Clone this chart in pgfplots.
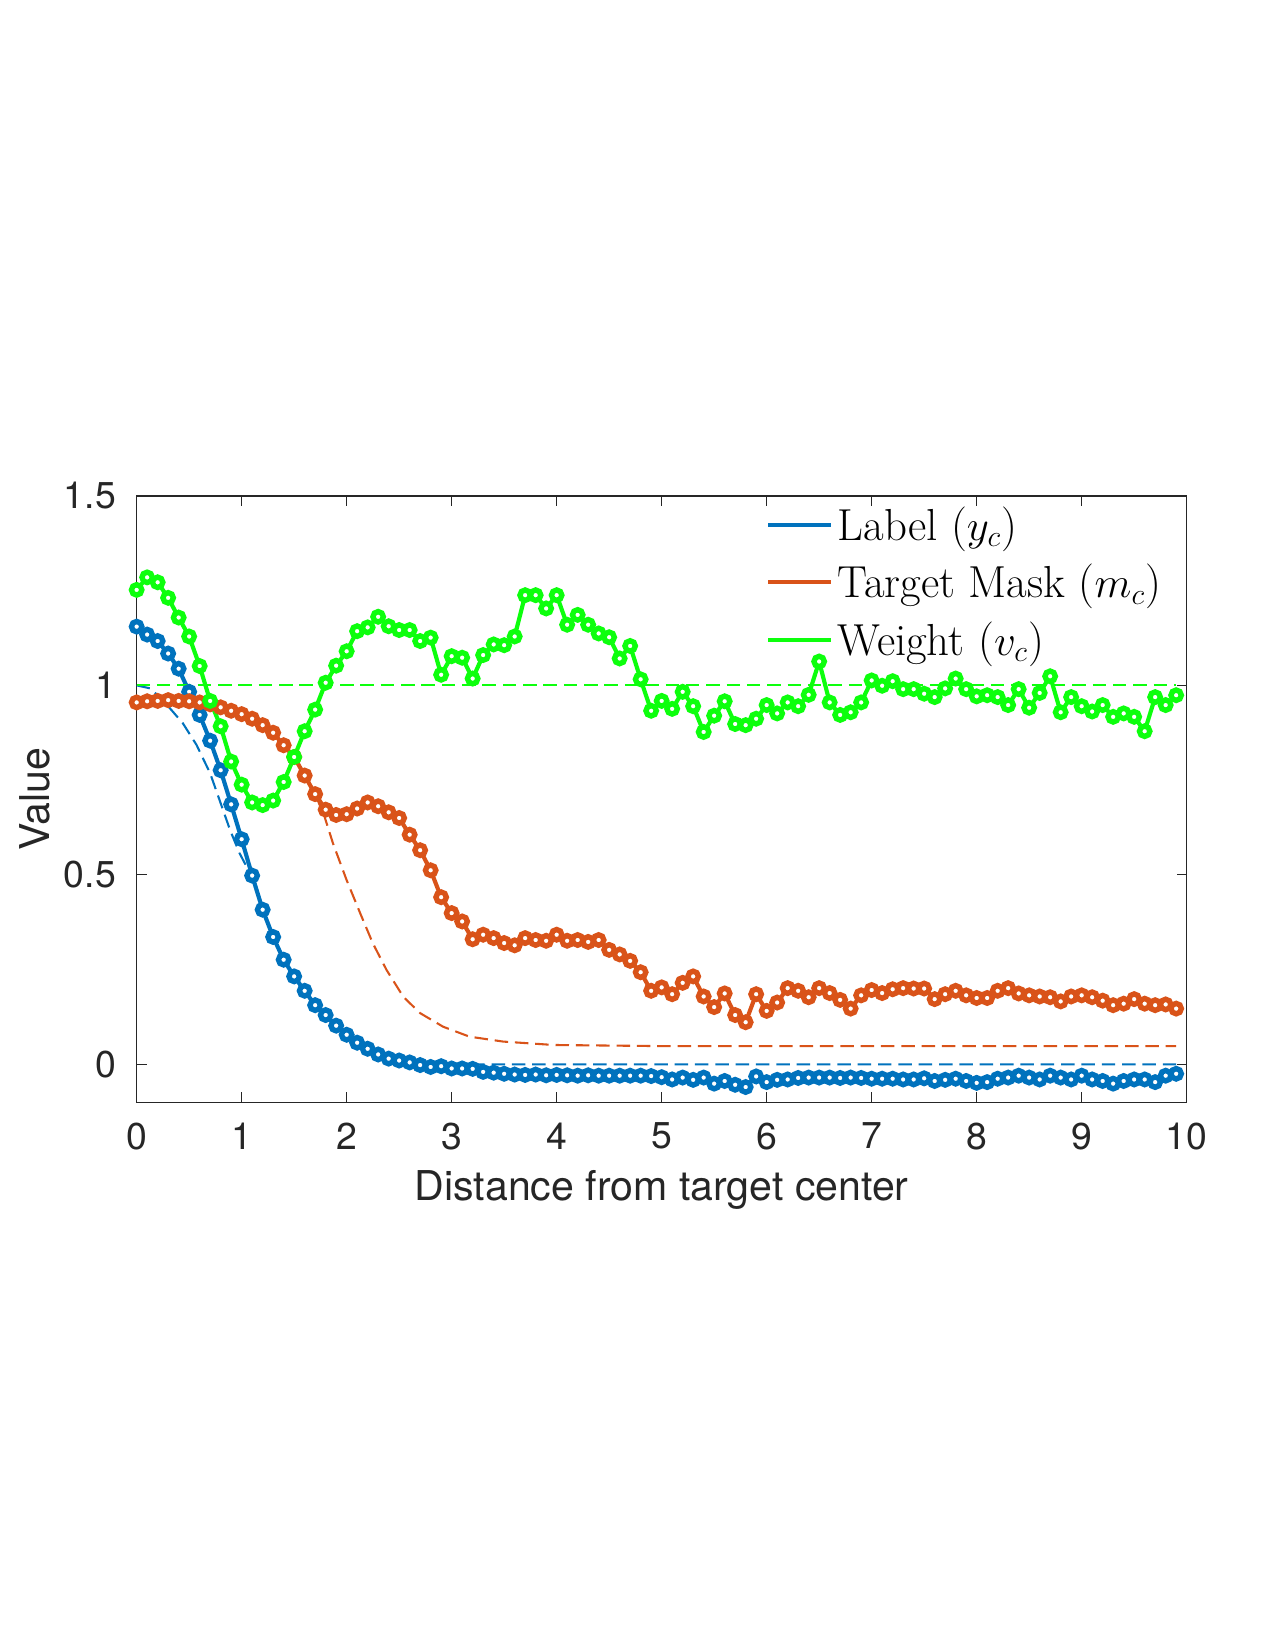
\documentclass[border=0pt]{standalone}
\usepackage{fontspec}
\setsansfont{TeX Gyre Heros}
\usepackage{pgfplots}
\pgfplotsset{compat=1.18}
\usepackage{pgfplotstable}
\definecolor{mblue}{rgb}{0,0.447,0.741}
\definecolor{morange}{rgb}{0.85,0.325,0.098}
\definecolor{mgreen}{rgb}{0.05,1,0.05}
\definecolor{axgray}{rgb}{0.15,0.15,0.15}

\pgfplotstableread{
x y
0.0 1.155
0.1 1.134
0.2 1.117
0.3 1.084
0.4 1.044
0.5 0.983
0.6 0.922
0.7 0.854
0.8 0.776
0.9 0.686
1.0 0.594
1.1 0.498
1.2 0.408
1.3 0.336
1.4 0.276
1.5 0.232
1.6 0.194
1.7 0.156
1.8 0.130
1.9 0.102
2.0 0.078
2.1 0.057
2.2 0.041
2.3 0.026
2.4 0.015
2.5 0.010
2.6 0.005
2.7 -0.002
2.8 -0.007
2.9 -0.005
3.0 -0.011
3.1 -0.011
3.2 -0.012
3.3 -0.020
3.4 -0.022
3.5 -0.025
3.6 -0.027
3.7 -0.028
3.8 -0.027
3.9 -0.029
4.0 -0.028
4.1 -0.029
4.2 -0.030
4.3 -0.029
4.4 -0.030
4.5 -0.030
4.6 -0.030
4.7 -0.030
4.8 -0.030
4.9 -0.031
5.0 -0.034
5.1 -0.040
5.2 -0.035
5.3 -0.041
5.4 -0.035
5.5 -0.051
5.6 -0.044
5.7 -0.054
5.8 -0.060
5.9 -0.032
6.0 -0.047
6.1 -0.041
6.2 -0.040
6.3 -0.036
6.4 -0.035
6.5 -0.035
6.6 -0.035
6.7 -0.036
6.8 -0.035
6.9 -0.036
7.0 -0.038
7.1 -0.038
7.2 -0.038
7.3 -0.040
7.4 -0.040
7.5 -0.037
7.6 -0.044
7.7 -0.041
7.8 -0.038
7.9 -0.044
8.0 -0.049
8.1 -0.047
8.2 -0.038
8.3 -0.035
8.4 -0.030
8.5 -0.035
8.6 -0.040
8.7 -0.030
8.8 -0.035
8.9 -0.040
9.0 -0.030
9.1 -0.040
9.2 -0.044
9.3 -0.051
9.4 -0.044
9.5 -0.040
9.6 -0.040
9.7 -0.047
9.8 -0.030
9.9 -0.025
}\labeldata

\pgfplotstableread{
x y
0.0 0.955
0.1 0.958
0.2 0.959
0.3 0.961
0.4 0.959
0.5 0.958
0.6 0.955
0.7 0.950
0.8 0.942
0.9 0.933
1.0 0.924
1.1 0.912
1.2 0.895
1.3 0.875
1.4 0.842
1.5 0.811
1.6 0.762
1.7 0.713
1.8 0.672
1.9 0.658
2.0 0.660
2.1 0.675
2.2 0.691
2.3 0.681
2.4 0.665
2.5 0.650
2.6 0.606
2.7 0.565
2.8 0.512
2.9 0.441
3.0 0.399
3.1 0.377
3.2 0.330
3.3 0.342
3.4 0.333
3.5 0.320
3.6 0.314
3.7 0.333
3.8 0.328
3.9 0.326
4.0 0.342
4.1 0.326
4.2 0.328
4.3 0.323
4.4 0.328
4.5 0.302
4.6 0.290
4.7 0.273
4.8 0.243
4.9 0.194
5.0 0.203
5.1 0.185
5.2 0.215
5.3 0.232
5.4 0.179
5.5 0.151
5.6 0.187
5.7 0.130
5.8 0.111
5.9 0.185
6.0 0.141
6.1 0.163
6.2 0.201
6.3 0.194
6.4 0.177
6.5 0.201
6.6 0.188
6.7 0.170
6.8 0.147
6.9 0.182
7.0 0.196
7.1 0.188
7.2 0.198
7.3 0.201
7.4 0.200
7.5 0.200
7.6 0.172
7.7 0.185
7.8 0.194
7.9 0.182
8.0 0.175
8.1 0.175
8.2 0.194
8.3 0.201
8.4 0.187
8.5 0.182
8.6 0.179
8.7 0.177
8.8 0.166
8.9 0.179
9.0 0.182
9.1 0.177
9.2 0.168
9.3 0.156
9.4 0.160
9.5 0.172
9.6 0.160
9.7 0.156
9.8 0.158
9.9 0.147
}\maskdata

\pgfplotstableread{
x y
0.0 1.252
0.1 1.285
0.2 1.272
0.3 1.231
0.4 1.179
0.5 1.129
0.6 1.051
0.7 0.959
0.8 0.892
0.9 0.799
1.0 0.738
1.1 0.691
1.2 0.684
1.3 0.696
1.4 0.745
1.5 0.811
1.6 0.879
1.7 0.936
1.8 1.007
1.9 1.052
2.0 1.090
2.1 1.143
2.2 1.153
2.3 1.181
2.4 1.156
2.5 1.146
2.6 1.146
2.7 1.117
2.8 1.126
2.9 1.028
3.0 1.077
3.1 1.073
3.2 1.018
3.3 1.080
3.4 1.108
3.5 1.106
3.6 1.129
3.7 1.238
3.8 1.238
3.9 1.203
4.0 1.238
4.1 1.160
4.2 1.186
4.3 1.160
4.4 1.137
4.5 1.127
4.6 1.071
4.7 1.104
4.8 1.016
4.9 0.933
5.0 0.959
5.1 0.938
5.2 0.983
5.3 0.945
5.4 0.877
5.5 0.920
5.6 0.958
5.7 0.898
5.8 0.895
5.9 0.912
6.0 0.948
6.1 0.926
6.2 0.955
6.3 0.945
6.4 0.975
6.5 1.063
6.6 0.955
6.7 0.922
6.8 0.929
6.9 0.955
7.0 1.013
7.1 0.999
7.2 1.011
7.3 0.990
7.4 0.990
7.5 0.978
7.6 0.969
7.7 0.992
7.8 1.018
7.9 0.990
8.0 0.971
8.1 0.974
8.2 0.969
8.3 0.948
8.4 0.990
8.5 0.941
8.6 0.980
8.7 1.024
8.8 0.929
8.9 0.969
9.0 0.945
9.1 0.931
9.2 0.948
9.3 0.917
9.4 0.926
9.5 0.917
9.6 0.879
9.7 0.969
9.8 0.948
9.9 0.974
}\weightdata

\begin{document}
\begin{tikzpicture}
\useasboundingbox (-0.911in,-3.652in) rectangle (7.589in,7.348in);
\begin{axis}[
  at={(0,0)}, anchor=south west,
  scale only axis, width=7in, height=4.042in,
  xmin=0, xmax=10, ymin=-0.1, ymax=1.5,
  xtick={0,1,...,10}, ytick={0,0.5,1,1.5},
  yticklabels={0,0.5,1,1.5},
  tick align=inside, major tick length=0.067in,
  axis line style={axgray, line width=0.6pt},
  every tick/.style={axgray, line width=0.6pt},
  /pgf/number format/assume math mode=true,
  tick label style={font=\fontsize{18}{21.6}\sffamily\selectfont, text=axgray},
  xticklabel style={yshift=-6.5pt},
  yticklabel style={xshift=-6.5pt},
  label style={font=\fontsize{19.8}{23.8}\sffamily\selectfont, text=axgray},
  xlabel style={yshift=-3pt},
  xlabel={Distance from target center},
  ylabel={Value},
  legend style={draw=none, fill=none, at={(axis description cs:0.98,0.99)}, anchor=north east,
    font=\fontsize{21.6}{26}\selectfont, row sep=6pt, inner sep=0pt},
  legend cell align=left,
  legend image code/.code={\draw[#1] (0in,0in) -- (0.42in,0in);},
  solidser/.style={line width=2pt, mark=*, mark size=2.5pt, mark options={fill=white, line width=2.6pt, solid}},
  dashser/.style={line width=1pt, dash pattern=on 6.5pt off 3.3pt, forget plot},
]
\addplot[morange, dashser] coordinates {
(1.7,0.713) (1.79,0.653) (1.87,0.583) (2.0,0.486) (2.13,0.398) (2.25,0.319) (2.38,0.249) (2.54,0.178) (2.70,0.135) (2.92,0.099) (3.17,0.073) (3.49,0.06) (3.97,0.051) (5,0.048) (9.9,0.048)};
\addplot[mblue, solidser] table {\labeldata};
\addlegendentry{Label ($y_c$)}
\addplot[morange, solidser] table {\maskdata};
\addlegendentry{Target Mask ($m_c$)}
\addplot[mgreen, solidser] table {\weightdata};
\addlegendentry{Weight ($v_c$)}
\addplot[mblue, dashser] coordinates {
(0,1.0) (0.13,0.992) (0.25,0.961) (0.44,0.90) (0.57,0.843) (0.70,0.768) (0.79,0.697) (0.89,0.618) (0.98,0.557) (1.05,0.52) (1.1,0.49) (1.2,0.41) (1.3,0.336) (1.4,0.276) (1.5,0.232) (1.6,0.194) (1.7,0.156) (1.8,0.13) (1.9,0.102) (2.0,0.078) (2.1,0.057) (2.2,0.041) (2.3,0.028) (2.4,0.018) (2.5,0.011) (2.6,0.006) (2.8,0.002) (3.0,0) (9.9,0)};
\addplot[mgreen, dashser] coordinates {(0,1) (9.9,1)};
\end{axis}
\end{tikzpicture}
\end{document}
